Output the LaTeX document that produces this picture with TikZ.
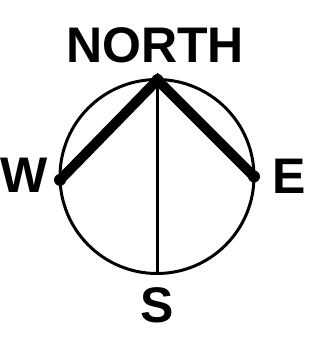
\documentclass[tikz,border=0pt]{standalone}
\usepackage{fontspec}
\setmainfont{Liberation Sans}
\usetikzlibrary{calc}
\begin{document}
\begin{tikzpicture}[x=1pt,y=1pt,
  lbl/.style={font=\fontsize{50}{50}\selectfont\bfseries, inner sep=0pt, anchor=base},
  dotpt/.style={circle, fill=black, inner sep=0pt, minimum size=12pt},
  thickarm/.style={line width=10pt, line cap=round},
  rim/.style={line width=3pt},
  axis/.style={line width=3pt}]
\useasboundingbox (0,0) rectangle (331,346);
\coordinate (c) at (157,169.5);
\draw[rim] (c) circle[radius=97];
\node[dotpt] (n) at (157.5,266) {};
\node[dotpt] (w) at ($(c)+(182:97)$) {};
\node[dotpt] (e) at ($(c)+(0:97)$) {};
\coordinate (s) at (157.5,72.5);
\draw[axis] (n.center) -- (s);
\draw[thickarm] (w.center) -- (n.center) -- (e.center);
\node[lbl] (north) at (155,283) {NORTH};
\node[lbl] (wl) at (23.6,153) {W};
\node[lbl] (el) at (289.5,152) {E};
\node[lbl] (sl) at (157.5,23.5) {S};
\end{tikzpicture}
\end{document}
